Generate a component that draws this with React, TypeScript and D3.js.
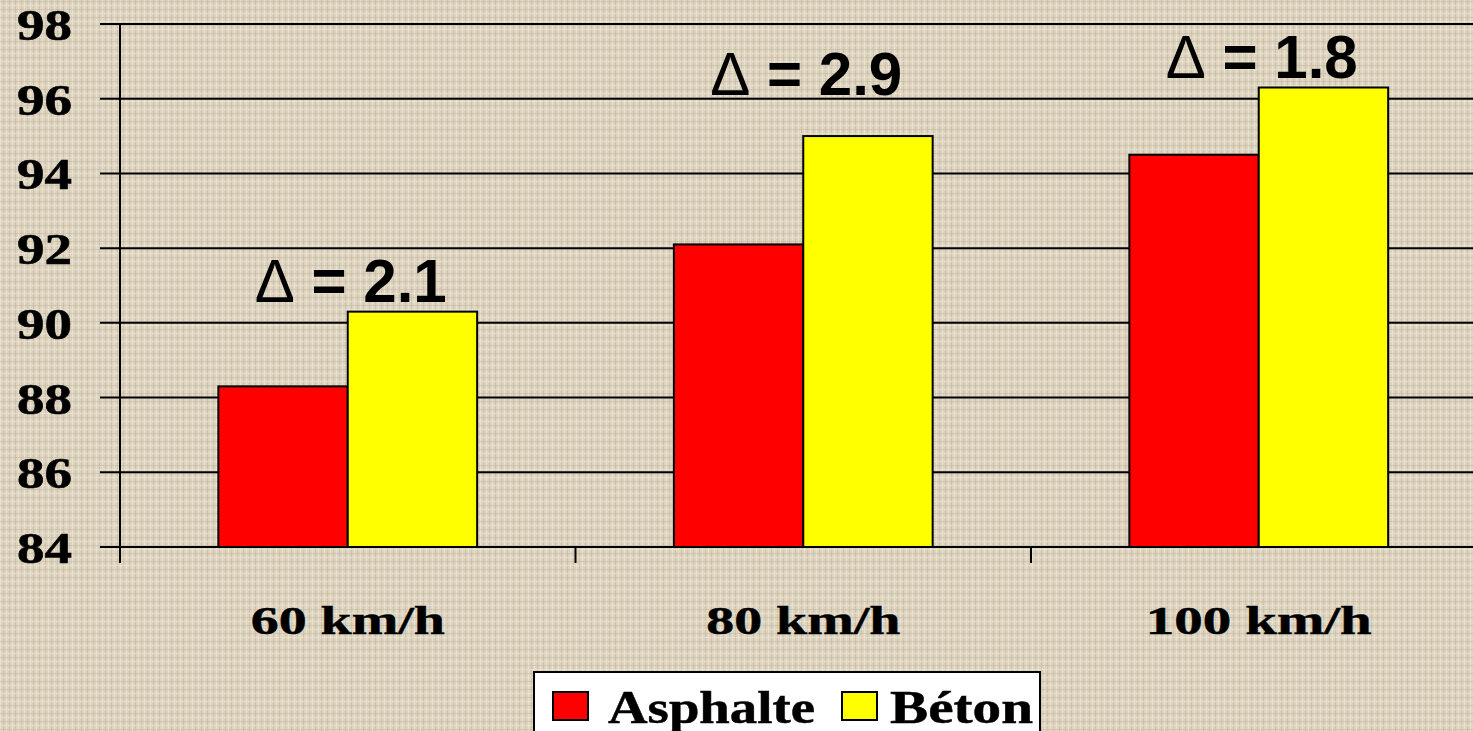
import React from "react";
import * as d3 from "d3";

const categories = ["60 km/h", "80 km/h", "100 km/h"];
const seriesNames = ["Asphalte", "Béton"];
const asphalte = [88.3, 92.1, 94.5];
const beton = [90.3, 95.0, 96.3];
const deltaValues = ["2.1", "2.9", "1.8"];
const deltaLabelY = [90.55, 96.1, 96.55];
const yTicks = [84, 86, 88, 90, 92, 94, 96, 98];
const colors = ["#ff0000", "#ffff00"];

const W = 1473;
const H = 731;

export default function App() {
  const y = d3.scaleLinear().domain([84, 98]).range([547, 24]);
  const x0 = d3.scaleBand<string>().domain(categories).range([120, 120 + 3 * 455.5]).padding(0);
  const x1 = d3
    .scaleBand<string>()
    .domain(seriesNames)
    .range([0, x0.bandwidth()])
    .paddingInner(0)
    .paddingOuter(0.76);
  const values = [asphalte, beton];

  const texV: number[] = d3.range(0, 24);
  const texH: number[] = d3.range(0, 24);

  return (
    <svg
      width={W}
      height={H}
      style={{ position: "absolute", left: 0, top: 0, display: "block" }}
      xmlns="http://www.w3.org/2000/svg"
    >
      <defs>
        <pattern id="tex" width="24" height="24" patternUnits="userSpaceOnUse">
          <rect width="24" height="24" fill="#ddd3bf" />
          {texV.map((i) =>
            i % 3 === 0 ? (
              <rect key={"v" + i} x={i} y={0} width={1} height={24} fill={i % 2 ? "#c9bea6" : "#ece5d5"} opacity={0.75} />
            ) : null
          )}
          {texH.map((i) =>
            i % 4 === 1 ? (
              <rect key={"h" + i} x={0} y={i} width={24} height={1} fill={i % 8 === 1 ? "#c6bba3" : "#eee7d8"} opacity={0.65} />
            ) : null
          )}
        </pattern>
      </defs>
      <rect x={0} y={0} width={W} height={H} fill="url(#tex)" />

      {yTicks.map((t) => (
        <line key={"g" + t} x1={100} x2={W} y1={y(t)} y2={y(t)} stroke="#000" strokeWidth={2} />
      ))}
      <line x1={120} x2={120} y1={y(98)} y2={563} stroke="#000" strokeWidth={2} />
      {categories.map((c) => (
        <line key={"xt" + c} x1={x0(c)!} x2={x0(c)!} y1={547} y2={563} stroke="#000" strokeWidth={2} />
      ))}

      {yTicks.map((t) => (
        <text
          key={"yl" + t}
          x={72}
          y={y(t) + 16}
          textAnchor="end"
          fontFamily="'Liberation Serif', 'Times New Roman', serif"
          fontWeight="bold"
          fontSize={45}
          textLength={55}
          lengthAdjust="spacingAndGlyphs"
          fill="#000"
          stroke="#000"
          strokeWidth={0.6}
        >
          {t}
        </text>
      ))}

      {categories.map((c, ci) =>
        seriesNames.map((s, si) => {
          const v = values[si][ci];
          const bx = x0(c)! + x1(s)!;
          return (
            <rect
              key={c + s}
              x={bx}
              y={y(v)}
              width={x1.bandwidth()}
              height={y(84) - y(v)}
              fill={colors[si]}
              stroke="#000"
              strokeWidth={2}
            />
          );
        })
      )}
      <line x1={100} x2={W} y1={y(84)} y2={y(84)} stroke="#000" strokeWidth={2} />

      {categories.map((c) => (
        <text
          key={"xl" + c}
          x={x0(c)! + x0.bandwidth() / 2}
          y={634}
          textAnchor="middle"
          fontFamily="'Liberation Serif', 'Times New Roman', serif"
          fontWeight="bold"
          fontSize={40}
          fill="#000"
          stroke="#000"
          strokeWidth={0.5}
          textLength={c.length === 7 ? 194 : 226}
          lengthAdjust="spacingAndGlyphs"
        >
          {c}
        </text>
      ))}

      {categories.map((c, ci) => (
        <text
          key={"d" + c}
          x={x0(c)! + x0.bandwidth() / 2 + 3}
          y={y(deltaLabelY[ci])}
          textAnchor="middle"
          fontFamily="'Liberation Sans', Arial, sans-serif"
          fontWeight="bold"
          fontSize={62}
          fill="#000"
          textLength={192}
          lengthAdjust="spacingAndGlyphs"
        >
          <tspan fontWeight="normal">Δ</tspan>
          {" = " + deltaValues[ci]}
        </text>
      ))}

      <g>
        <rect x={534} y={672} width={506} height={70} fill="#fff" stroke="#000" strokeWidth={2} />
        {seriesNames.map((s, si) => {
          const sx = si === 0 ? 553 : 842;
          const tx = si === 0 ? 608 : 890;
          const tw = si === 0 ? 207 : 143;
          return (
            <g key={"lg" + s}>
              <rect x={sx} y={692} width={35} height={28} fill={colors[si]} stroke="#000" strokeWidth={2} />
              <text
                x={tx}
                y={723}
                fontFamily="'Liberation Serif', 'Times New Roman', serif"
                fontWeight="bold"
                fontSize={46}
                fill="#000"
                stroke="#000"
                strokeWidth={0.5}
                textLength={tw}
                lengthAdjust="spacingAndGlyphs"
              >
                {s}
              </text>
            </g>
          );
        })}
      </g>
    </svg>
  );
}
